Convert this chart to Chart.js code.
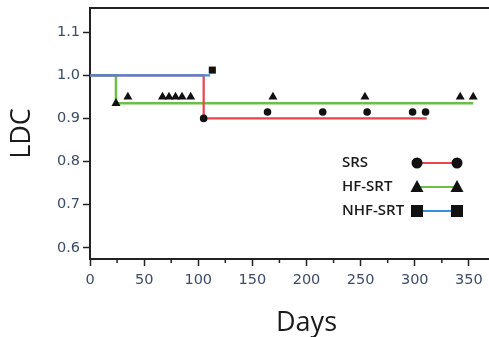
<!DOCTYPE html>
<html>
<head>
<meta charset="utf-8">
<script src="https://cdn.jsdelivr.net/npm/chart.js@4/dist/chart.umd.min.js"></script>
<style>
  html, body { margin: 0; padding: 0; background: #fff; overflow: hidden; }
  #wrap { width: 530px; height: 337px; }
</style>
</head>
<body>
<div id="wrap"><canvas id="c" width="530" height="337"></canvas></div>
<script>
// ---- Data ----
const seriesNames = ['SRS', 'HF-SRT', 'NHF-SRT'];

// Step curves (stepped: value holds until next day)
const srsDays   = [0, 105, 311];
const srsLDC    = [1.0, 0.90, 0.90];
const hfDays    = [0, 24, 354];
const hfLDC     = [1.0, 0.935, 0.935];
const nhfDays   = [0, 111];
const nhfLDC    = [1.0, 1.0];

// Individual markers
const srsPtDays = [105, 164, 215, 256, 298, 310];
const srsPtLDC  = [0.90, 0.915, 0.915, 0.915, 0.915, 0.915];
const hfPtDays  = [24, 35, 67, 73, 79, 85, 93, 169, 254, 342, 354];
const hfPtLDC   = [0.935, 0.95, 0.95, 0.95, 0.95, 0.95, 0.95, 0.95, 0.95, 0.95, 0.95];
const nhfPtDays = [113];
const nhfPtLDC  = [1.012];

const yTicks = [0.6, 0.7, 0.8, 0.9, 1.0, 1.1];
const xTicks = [0, 50, 100, 150, 200, 250, 300, 350];

const colors = { SRS: '#e8454c', 'HF-SRT': '#6abf45', 'NHF-SRT': '#3a8ee0' };
const tickColor = '#3b4c68';
const axisColor = '#222222';

const pts = (xs, ys) => xs.map((x, i) => ({ x, y: ys[i] }));

// Custom legend + top border + minor x ticks
const decor = {
  id: 'decor',
  afterDraw(chart) {
    const ctx = chart.ctx;
    const a = chart.chartArea;
    const xs = chart.scales.x;
    ctx.save();
    // top frame line
    ctx.strokeStyle = axisColor;
    ctx.lineWidth = 2;
    ctx.beginPath();
    ctx.moveTo(a.left - 1, a.top);
    ctx.lineTo(a.right, a.top);
    ctx.stroke();
    // minor ticks at every 25 days
    ctx.lineWidth = 1.5;
    for (let d = 25; d < xs.max; d += 50) {
      const px = xs.getPixelForValue(d);
      ctx.beginPath();
      ctx.moveTo(px, a.bottom);
      ctx.lineTo(px, a.bottom + 4);
      ctx.stroke();
    }
    // legend
    const items = [
      { name: 'SRS', style: 'circle', y: 163 },
      { name: 'HF-SRT', style: 'triangle', y: 187 },
      { name: 'NHF-SRT', style: 'rect', y: 211 }
    ];
    const tx = 342, x1 = 417, x2 = 457;
    items.forEach(it => {
      ctx.fillStyle = '#1a1a1a';
      ctx.font = '600 15px "Open Sans"';
      ctx.textBaseline = 'middle';
      ctx.textAlign = 'left';
      ctx.fillText(it.name, tx, it.y);
      ctx.strokeStyle = colors[it.name];
      ctx.lineWidth = 2;
      ctx.beginPath();
      ctx.moveTo(x1, it.y);
      ctx.lineTo(x2, it.y);
      ctx.stroke();
      ctx.fillStyle = '#111';
      [x1, x2].forEach(cx => {
        ctx.beginPath();
        if (it.style === 'circle') {
          ctx.arc(cx, it.y, 5.5, 0, Math.PI * 2);
        } else if (it.style === 'triangle') {
          ctx.moveTo(cx, it.y - 7);
          ctx.lineTo(cx + 6.5, it.y + 5);
          ctx.lineTo(cx - 6.5, it.y + 5);
          ctx.closePath();
        } else {
          ctx.rect(cx - 6, it.y - 6, 12, 12);
        }
        ctx.fill();
      });
    });
    ctx.restore();
  }
};

new Chart(document.getElementById('c'), {
  type: 'line',
  data: {
    datasets: [
      { label: 'SRS marks', data: pts(srsPtDays, srsPtLDC), showLine: false, pointStyle: 'circle',
        pointRadius: 3.8, pointBackgroundColor: '#111', pointBorderWidth: 0, order: 0 },
      { label: 'HF-SRT marks', data: pts(hfPtDays, hfPtLDC), showLine: false, pointStyle: 'triangle',
        pointRadius: 5.2, pointBackgroundColor: '#111', pointBorderWidth: 0, order: 0 },
      { label: 'NHF-SRT marks', data: pts(nhfPtDays, nhfPtLDC), showLine: false, pointStyle: 'rect',
        pointRadius: 5, pointBackgroundColor: '#111', pointBorderWidth: 0, order: 0 },
      { label: seriesNames[2], data: pts(nhfDays, nhfLDC), stepped: true, borderColor: colors['NHF-SRT'],
        borderWidth: 2.2, pointRadius: 0, order: 1 },
      { label: seriesNames[0], data: pts(srsDays, srsLDC), stepped: true, borderColor: colors.SRS,
        borderWidth: 2.2, pointRadius: 0, order: 2 },
      { label: seriesNames[1], data: pts(hfDays, hfLDC), stepped: true, borderColor: colors['HF-SRT'],
        borderWidth: 2.5, pointRadius: 0, order: 3 }
    ]
  },
  options: {
    responsive: false,
    animation: false,
    layout: { padding: { top: 8, right: 7, left: 0, bottom: 0 } },
    plugins: { legend: { display: false }, tooltip: { enabled: false } },
    scales: {
      x: {
        type: 'linear',
        min: 0, max: 400,
        afterBuildTicks: s => { s.ticks = xTicks.map(v => ({ value: v })); },
        afterFit: s => { s.height = 78; s.paddingLeft = 0; s.paddingRight = 0; },
        border: { display: true, color: axisColor, width: 2 },
        grid: { display: true, drawOnChartArea: false, drawTicks: true, tickLength: 7, color: axisColor, tickWidth: 1.5 },
        ticks: { color: tickColor, font: { family: 'DejaVu Sans', size: 14.5 }, padding: 6, maxRotation: 0,
                 callback: v => String(v) },
        title: { display: true, text: 'Days', color: '#1a1a1a',
                 font: { family: 'Open Sans', size: 27, lineHeight: 1.0 }, padding: { top: 0, bottom: 0 } }
      },
      y: {
        type: 'linear',
        min: 0.574, max: 1.156,
        afterBuildTicks: s => { s.ticks = yTicks.map(v => ({ value: v })); },
        afterFit: s => { s.width = 90; s.paddingTop = 0; s.paddingBottom = 0; },
        border: { display: true, color: axisColor, width: 2 },
        grid: { display: true, drawOnChartArea: false, drawTicks: true, tickLength: 7, color: axisColor, tickWidth: 1.5 },
        ticks: { color: tickColor, font: { family: 'DejaVu Sans', size: 14.5 }, padding: 3,
                 callback: v => Number(v).toFixed(1) },
        title: { display: true, text: 'LDC', color: '#1a1a1a',
                 font: { family: 'Open Sans', size: 27 }, padding: { top: 6, bottom: 0 } }
      }
    }
  },
  plugins: [decor]
});
</script>
</body>
</html>
